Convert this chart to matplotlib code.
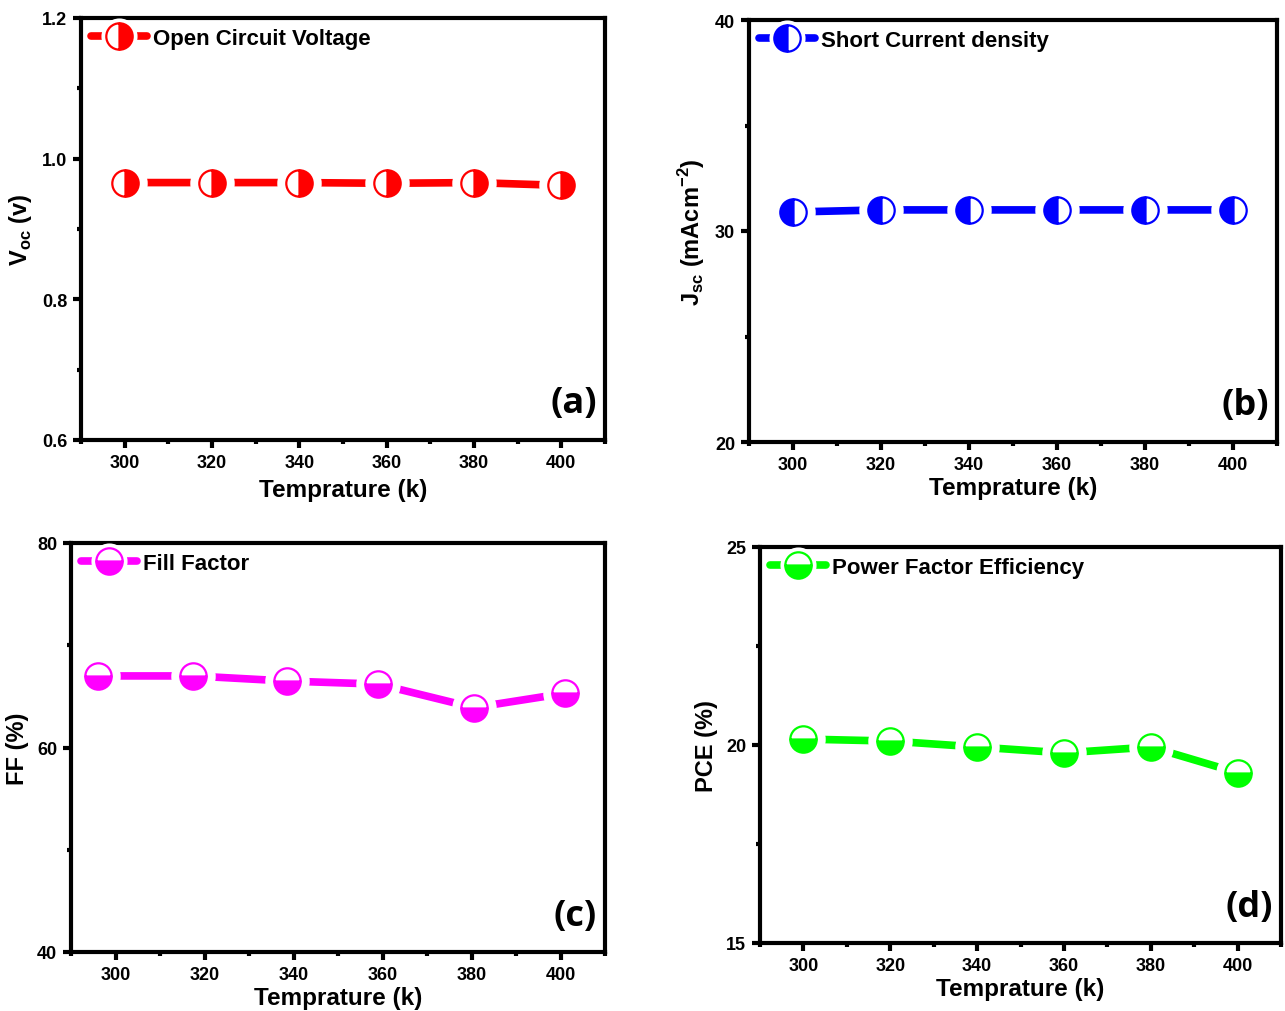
import matplotlib
matplotlib.use("Agg")
import matplotlib.pyplot as plt
from matplotlib.lines import Line2D
from matplotlib.legend_handler import HandlerTuple
from matplotlib.ticker import MultipleLocator

plt.rcParams['font.family'] = ['Liberation Sans', 'DejaVu Sans']
plt.rcParams['font.weight'] = 'bold'
plt.rcParams['mathtext.default'] = 'bf'

# ---- data ----
temp = [300, 320, 340, 360, 380, 400]
temp_c = [296, 317.5, 338.5, 359, 380.5, 401]
voc = [0.966, 0.966, 0.966, 0.965, 0.966, 0.962]
jsc = [30.9, 31.0, 31.0, 31.0, 31.0, 31.0]
ff = [67.0, 67.0, 66.5, 66.2, 63.9, 65.3]
pce = [20.15, 20.1, 19.95, 19.8, 19.95, 19.3]

W, H = 1285, 1012
fig = plt.figure(figsize=(W / 100, H / 100), dpi=100)

def pos(l, t, r, b):
    return [l / W, 1 - b / H, (r - l) / W, (b - t) / H]

panels = [
    dict(rect=pos(81, 19, 605, 441), x=temp, y=voc, color='#ff0000', fs='right',
         ylim=(0.6, 1.2), major=0.2, minor=0.1, fmt='{:.1f}', xpad=5,
         ylabel='V$_{\\mathregular{oc}}$ (v)', leg='Open Circuit Voltage', tag='(a)'),
    dict(rect=pos(749, 21, 1277, 443), x=temp, y=jsc, color='#0000ff', fs='left',
         ylim=(20, 40), major=10, minor=5, fmt='{:.0f}', xpad=2.5,
         ylabel='J$_{\\mathregular{sc}}$ (mAcm$^{\\mathregular{-2}}$)', leg='Short Current density', tag='(b)'),
    dict(rect=pos(71, 544, 605, 953), x=temp_c, y=ff, color='#ff00ff', fs='bottom',
         ylim=(40, 80), major=20, minor=10, fmt='{:.0f}', xpad=2.5,
         ylabel='FF (%)', leg='Fill Factor', tag='(c)'),
    dict(rect=pos(760, 548, 1281, 944), x=temp, y=pce, color='#00ff00', fs='bottom',
         ylim=(15, 25), major=5, minor=2.5, fmt='{:.0f}', xpad=2.5,
         ylabel='PCE (%)', leg='Power Factor Efficiency', tag='(d)'),
]

for p in panels:
    ax = fig.add_axes(p['rect'])
    c = p['color']
    ax.plot(p['x'], p['y'], color=c, lw=5.5, solid_capstyle='round', zorder=2)
    ax.plot(p['x'], p['y'], ls='none', marker='o', ms=32, mfc='white', mec='none', zorder=3)
    ax.plot(p['x'], p['y'], ls='none', marker='o', ms=19, mfc=c, mfcalt='white',
            mec=c, mew=1.6, fillstyle=p['fs'], zorder=4)
    ax.set_xlim(290, 410)
    ax.set_ylim(*p['ylim'])
    ax.xaxis.set_major_locator(MultipleLocator(20))
    ax.xaxis.set_minor_locator(MultipleLocator(10))
    ax.yaxis.set_major_locator(MultipleLocator(p['major']))
    ax.yaxis.set_minor_locator(MultipleLocator(p['minor']))
    ax.yaxis.set_major_formatter(plt.FuncFormatter(lambda v, _, f=p['fmt']: f.format(v)))
    for s in ax.spines.values():
        s.set_linewidth(3)
    ax.tick_params(which='major', direction='out', length=6, width=3, labelsize=13, pad=4)
    ax.tick_params(which='minor', direction='out', length=3, width=3)
    for lab in ax.get_xticklabels() + ax.get_yticklabels():
        lab.set_fontweight('bold')
    ax.set_xlabel('Temprature (k)', fontsize=17.5, fontweight='bold', labelpad=p['xpad'])
    ax.set_ylabel(p['ylabel'], fontsize=17, fontweight='bold', labelpad=6)
    h_line = Line2D([], [], color=c, lw=5.5, solid_capstyle='round')
    h_white = Line2D([], [], ls='none', marker='o', ms=26, mfc='white', mec='none')
    h_mark = Line2D([], [], ls='none', marker='o', ms=19, mfc=c, mfcalt='white',
                    mec=c, mew=1.6, fillstyle=p['fs'])
    ax.legend([(h_line, h_white, h_mark)], [p['leg']],
              handler_map={tuple: HandlerTuple(ndivide=1)},
              loc='upper left', frameon=False, handlelength=2.5,
              handletextpad=0.3, borderaxespad=0.25, borderpad=0.2,
              prop={'weight': 'bold', 'size': 16})
    ax.text(0.985, 0.045, p['tag'], transform=ax.transAxes, ha='right', va='bottom',
            fontsize=26, fontweight='bold', family=['Open Sans', 'DejaVu Sans'])

fig.savefig('out.png', dpi=100)
